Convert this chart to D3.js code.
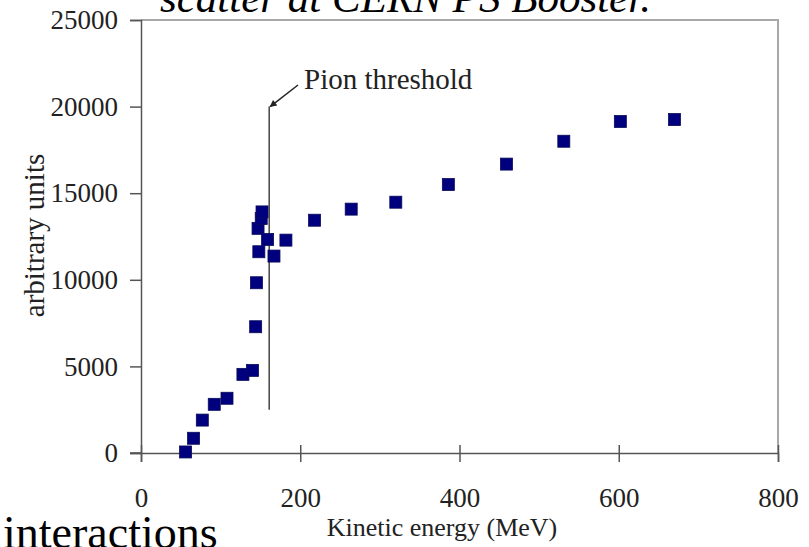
<!DOCTYPE html>
<html><head><meta charset="utf-8">
<script src="https://cdn.jsdelivr.net/npm/d3@7"></script>
<style>
html,body{margin:0;padding:0;background:#fff;overflow:hidden;}
svg text{font-family:"Liberation Serif","Times New Roman",serif;}
</style></head>
<body>
<svg id="chart" width="809" height="547"></svg>
<script>
// Data
const energy = [56, 66, 77, 92, 108, 128, 140, 144, 145, 148, 147, 151, 152, 159, 167, 182, 218, 264, 320, 386, 459, 531, 602, 670];
const counts = [60, 850, 1900, 2810, 3160, 4540, 4770, 7290, 9830, 11620, 12970, 13540, 13920, 12330, 11370, 12290, 13440, 14080, 14480, 15500, 16680, 18000, 19140, 19250];
const xTicks = [0, 200, 400, 600, 800];
const yTicks = [0, 5000, 10000, 15000, 20000, 25000];
const thresholdEnergy = 161;
const thresholdRange = [2500, 20000];
const xLabel = "Kinetic energy (MeV)";
const yLabel = "arbitrary units";
const annotation = "Pion threshold";
const topText = "scatter at CERN PS Booster.";
const bottomText = "interactions";

const svg = d3.select("#chart");
const x = d3.scaleLinear().domain([0, 800]).range([141, 778]);
const y = d3.scaleLinear().domain([0, 25000]).range([453, 20]);

// frame (top and right)
svg.append("path")
  .attr("d", `M${x(0)},${y(25000)}H${x(800)}V${y(0)}`)
  .attr("fill", "none").attr("stroke", "#a8a8a8").attr("stroke-width", 2);

// y axis
const yAxis = svg.append("g").attr("transform", `translate(${x(0)},0)`)
  .call(d3.axisLeft(y).tickValues(yTicks).tickSize(11).tickPadding(12).tickFormat(d3.format("d")));
yAxis.select(".domain").attr("stroke", "#555").attr("stroke-width", 1.5);
yAxis.selectAll(".tick line").attr("stroke", "#555").attr("stroke-width", 1.5);
yAxis.selectAll("text").attr("font-size", 27).attr("fill", "#222")
  .attr("font-family", "Liberation Serif");

// x axis (ticks crossing)
const xAxis = svg.append("g").attr("transform", `translate(0,${y(0)})`)
  .call(d3.axisBottom(x).tickValues(xTicks).tickSize(9).tickPadding(26).tickFormat(d3.format("d")));
xAxis.select(".domain").attr("stroke", "#555").attr("stroke-width", 1.5);
xAxis.selectAll(".tick line").attr("y1", -8).attr("y2", 9).attr("stroke", "#555").attr("stroke-width", 1.5);
xAxis.selectAll("text").attr("font-size", 27).attr("fill", "#222")
  .attr("font-family", "Liberation Serif");
svg.append("line").attr("x1", x(0) - 11).attr("x2", x(0)).attr("y1", y(0)).attr("y2", y(0))
  .attr("stroke", "#555").attr("stroke-width", 1.5);

// threshold line
svg.append("line")
  .attr("x1", x(thresholdEnergy)).attr("x2", x(thresholdEnergy))
  .attr("y1", y(thresholdRange[0])).attr("y2", y(thresholdRange[1]))
  .attr("stroke", "#444").attr("stroke-width", 1.5);

// arrow annotation
svg.append("defs").append("marker").attr("id", "ah")
  .attr("viewBox", "0 0 10 10").attr("refX", 9).attr("refY", 5)
  .attr("markerWidth", 9).attr("markerHeight", 7).attr("orient", "auto")
  .attr("markerUnits", "userSpaceOnUse")
  .append("path").attr("d", "M0,0L10,5L0,10Z").attr("fill", "#222");
svg.append("line")
  .attr("x1", 298).attr("y1", 85)
  .attr("x2", x(thresholdEnergy) + 1).attr("y2", y(thresholdRange[1]))
  .attr("stroke", "#222").attr("stroke-width", 1.5).attr("marker-end", "url(#ah)");
svg.append("text").attr("x", 304).attr("y", 89).attr("font-size", 29).attr("fill", "#222")
  .text(annotation);

// points
svg.append("g").selectAll("rect").data(energy.map((e, i) => [e, counts[i]]))
  .join("rect")
  .attr("x", d => x(d[0]) - 6).attr("y", d => y(d[1]) - 6)
  .attr("width", 12).attr("height", 12)
  .attr("fill", "#00007f").attr("stroke", "#0a0a5a").attr("stroke-width", 0.8);

// axis titles
svg.append("text").attr("x", 442).attr("y", 536)
  .attr("text-anchor", "middle").attr("font-size", 26).attr("fill", "#222").text(xLabel);
svg.append("text").attr("transform", `translate(44,${y(12500) - 1}) rotate(-90)`)
  .attr("text-anchor", "middle").attr("font-size", 29).attr("fill", "#222").text(yLabel);

// slide text fragments cut off at edges
svg.append("text").attr("x", 160).attr("y", 12).attr("font-size", 43)
  .attr("font-style", "italic").attr("fill", "#000").text(topText);
svg.append("text").attr("x", 3).attr("y", 548).attr("font-size", 46)
  .attr("fill", "#000").text(bottomText);
</script>
</body></html>
